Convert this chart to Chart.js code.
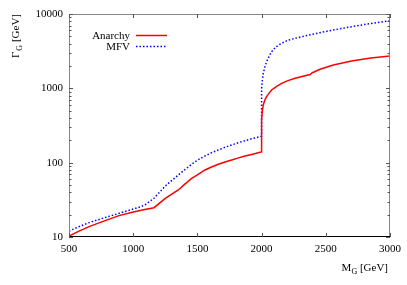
<!DOCTYPE html>
<html>
<head>
<meta charset="utf-8">
<script src="https://cdn.jsdelivr.net/npm/chart.js@4/dist/chart.umd.min.js"></script>
<style>
html,body{margin:0;padding:0;background:#fff;}
#wrap{width:407px;height:285px;position:relative;}
</style>
</head>
<body>
<div id="wrap"><canvas id="c" width="407" height="285"></canvas></div>
<script>
// ---- data ----
const anarchyMass = [500,578,656,760,889,993,1080,1162,1250,1351,1400,1455,1500,1559,1610,1663,1715,1767,1820,1871,1930,1988,2000,
  2000,2006,2013,2026,2039,2060,2078,2117,2156,2200,2260,2338,2377,2395,2455,2558,2700,2850,3000];
const anarchyWidth = [10.3,12.0,13.8,16.1,19.4,21.5,23.2,24.8,33,42.9,51,61.6,68.5,79.7,87.5,95.1,102,108.6,116,123,130,137.8,139.5,
  380,500,597,700,773,870,950,1060,1169,1260,1365,1480,1530,1620,1803,2061,2330,2550,2723];
const mfvMass = [500,578,656,760,889,1019,1060,1097,1162,1250,1351,1400,1455,1500,1559,1610,1663,1715,1767,1820,1871,1930,1988,2000,
  2000,2006,2013,2026,2039,2060,2078,2110,2156,2200,2260,2338,2455,2558,2700,2850,3000];
const mfvWidth = [12.0,13.8,15.6,17.8,20.8,24.3,25.6,27.5,33.2,48.5,68.2,80,95.1,108,123,136,148,161,173,186,197.6,211,223.6,228,
  1000,1300,1594,1950,2284,2720,3112,3600,4035,4400,4710,5060,5610,6095,6750,7450,8128];
const xTicks = [500,1000,1500,2000,2500,3000];
const yTickLabels = [10,100,1000,10000];
const seriesNames = ['Anarchy','MFV'];

const FONT = "'Liberation Serif','Times New Roman',serif";

const frame = {
  id:'frame',
  afterDraw(chart){
    const ctx = chart.ctx, ca = chart.chartArea;
    const xs = chart.scales.x, ys = chart.scales.y;
    ctx.save();
    // box
    ctx.lineWidth = 1;
    ctx.strokeStyle = '#888';
    ctx.beginPath();
    ctx.moveTo(ca.left+0.5, ca.bottom); ctx.lineTo(ca.left+0.5, ca.top+0.5);
    ctx.lineTo(ca.right-0.5, ca.top+0.5); ctx.lineTo(ca.right-0.5, ca.bottom);
    ctx.stroke();
    ctx.strokeStyle = '#000';
    ctx.beginPath(); ctx.moveTo(ca.left, ca.bottom-0.5); ctx.lineTo(ca.right, ca.bottom-0.5); ctx.stroke();
    // x ticks (inward, mirrored)
    ctx.strokeStyle = '#555';
    ctx.beginPath();
    xTicks.forEach(v=>{
      const p = Math.round(xs.getPixelForValue(v))+0.5;
      ctx.moveTo(p, ca.bottom); ctx.lineTo(p, ca.bottom-4);
      ctx.moveTo(p, ca.top); ctx.lineTo(p, ca.top+4);
    });
    // y ticks (log, major + minor)
    for (let d=1; d<4; d++){
      for (let k=1;k<=9;k++){
        const v = k*Math.pow(10,d);
        const p = Math.round(ys.getPixelForValue(v))+0.5;
        const len = k===1?4:2.5;
        ctx.moveTo(ca.left, p); ctx.lineTo(ca.left+len, p);
        ctx.moveTo(ca.right, p); ctx.lineTo(ca.right-len, p);
      }
    }
    {
      const p = Math.round(ys.getPixelForValue(10000))+0.5;
      ctx.moveTo(ca.left, p); ctx.lineTo(ca.left+4, p);
      ctx.moveTo(ca.right, p); ctx.lineTo(ca.right-4, p);
    }
    ctx.stroke();

    // legend
    ctx.font = '11px '+FONT;
    ctx.fillStyle = '#000';
    ctx.textAlign = 'right';
    ctx.textBaseline = 'middle';
    chart.data.datasets.forEach((ds,i)=>{
      const y = 35.5 + i*11;
      ctx.fillText(ds.label, 130, y+0.5);
      ctx.strokeStyle = ds.borderColor;
      ctx.lineWidth = ds.borderWidth;
      ctx.setLineDash(ds.borderDash||[]);
      ctx.beginPath(); ctx.moveTo(136, y); ctx.lineTo(167, y); ctx.stroke();
    });
    ctx.setLineDash([]);

    // axis titles with subscripts
    ctx.textAlign = 'left';
    ctx.textBaseline = 'alphabetic';
    // x title
    const xParts = [['M',11,0],['G',8,2.5],[' [GeV]',11,0]];
    let w = 0;
    xParts.forEach(p=>{ctx.font = p[1]+'px '+FONT; w += ctx.measureText(p[0]).width;});
    let x0 = 388 - w;
    xParts.forEach(p=>{ctx.font = p[1]+'px '+FONT; ctx.fillText(p[0], x0, 271+p[2]); x0 += ctx.measureText(p[0]).width;});
    // y title (rotated)
    ctx.translate(19, 58);
    ctx.rotate(-Math.PI/2);
    const yParts = [['Γ',11,0],[' ',4,0],['G',8,2.5],[' [GeV]',11,0]];
    let yx = 0;
    yParts.forEach(p=>{ctx.font = p[1]+'px '+FONT; ctx.fillText(p[0], yx, p[2]); yx += ctx.measureText(p[0]).width;});
    ctx.restore();
  }
};

new Chart(document.getElementById('c'), {
  type:'scatter',
  data:{
    datasets:[
      {label:seriesNames[0], data:anarchyMass.map((m,i)=>({x:m,y:anarchyWidth[i]})),
       showLine:true, borderColor:'#ff0000', borderWidth:1.5, pointRadius:0, tension:0, fill:false},
      {label:seriesNames[1], data:mfvMass.map((m,i)=>({x:m,y:mfvWidth[i]})),
       showLine:true, borderColor:'#0000ff', borderWidth:1.5, borderDash:[1.5,2], pointRadius:0, tension:0, fill:false}
    ]
  },
  options:{
    responsive:false,
    animation:false,
    devicePixelRatio:1,
    layout:{padding:{top:14,right:17,left:0,bottom:0}},
    plugins:{legend:{display:false},tooltip:{enabled:false}},
    scales:{
      x:{type:'linear',min:500,max:3000,
        afterBuildTicks(s){s.ticks = xTicks.map(v=>({value:v}));},
        afterFit(s){s.height = 48;},
        grid:{display:false,drawTicks:false},border:{display:false},
        ticks:{autoSkip:false,maxRotation:0,padding:6,color:'#000',font:{family:FONT,size:11},
          callback:(v)=>String(v)}
      },
      y:{type:'logarithmic',min:10,max:10000,
        afterBuildTicks(s){s.ticks = yTickLabels.map(v=>({value:v}));},
        afterFit(s){s.width = 69;},
        grid:{display:false,drawTicks:false},border:{display:false},
        ticks:{autoSkip:false,padding:6,color:'#000',font:{family:FONT,size:11},
          callback:(v)=>String(v)}
      }
    }
  },
  plugins:[frame]
});
</script>
</body>
</html>
